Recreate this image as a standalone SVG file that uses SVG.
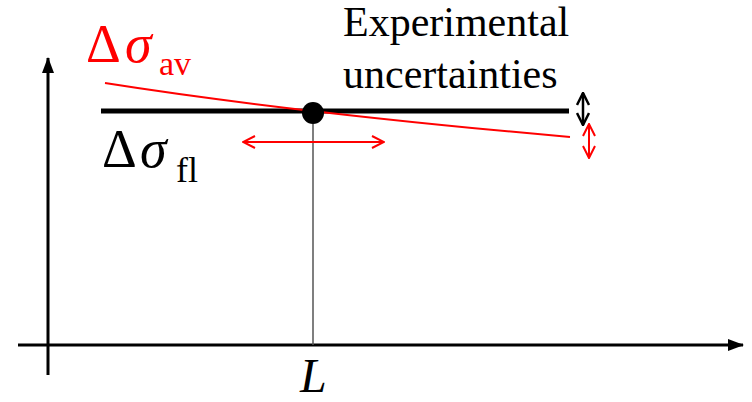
<svg xmlns="http://www.w3.org/2000/svg" width="752" height="402" viewBox="0 0 752 402">
<defs>
<style>
.serif{font-family:"Liberation Serif","Times New Roman",serif}
.red{fill:#ff0000}
.blk{fill:#000}
.ax{stroke:#000;stroke-width:3;fill:none}
.rl{stroke:#ff0000;stroke-width:2;fill:none}
</style>
<marker id="tri" viewBox="0 0 16 12" refX="15" refY="6" markerWidth="16" markerHeight="12" markerUnits="userSpaceOnUse" orient="auto">
<path d="M0,0 L16,6 L0,12 Z" fill="#000"/>
</marker>
<marker id="openR" viewBox="0 0 14 14" refX="13" refY="7" markerWidth="14" markerHeight="14" markerUnits="userSpaceOnUse" orient="auto-start-reverse">
<path d="M1,1 L13,7 L1,13" fill="none" stroke="#ff0000" stroke-width="2"/>
</marker>
<marker id="openK" viewBox="0 0 14 14" refX="13" refY="7" markerWidth="14" markerHeight="14" markerUnits="userSpaceOnUse" orient="auto-start-reverse">
<path d="M1,1 L13,7 L1,13" fill="none" stroke="#000" stroke-width="2.5"/>
</marker>
</defs>
<g id="connectors">
<line class="ax" x1="48" y1="375" x2="48" y2="58" marker-end="url(#tri)"/>
<line class="ax" x1="18" y1="345" x2="743" y2="345" marker-end="url(#tri)"/>
<line x1="313" y1="124" x2="313" y2="345" stroke="#555" stroke-width="1.5"/>
<line x1="101" y1="111" x2="569" y2="111" stroke="#000" stroke-width="5"/>
<path class="rl" d="M105,83 Q288.5,112 570,137"/>
<line class="rl" x1="243" y1="142" x2="384" y2="142" marker-start="url(#openR)" marker-end="url(#openR)"/>
<line x1="583" y1="93" x2="583" y2="125" stroke="#000" stroke-width="2.5" marker-start="url(#openK)" marker-end="url(#openK)"/>
<line class="rl" x1="589" y1="124" x2="589" y2="158" marker-start="url(#openR)" marker-end="url(#openR)"/>
</g>
<g id="point">
<circle cx="313" cy="113" r="11" fill="#000"/>
</g>
<g id="label-av" class="serif red">
<text x="86" y="62" font-size="54">Δ</text>
<text x="125" y="62" font-size="54" font-style="italic">σ</text>
<text x="159" y="75" font-size="34">av</text>
</g>
<g id="label-fl" class="serif blk">
<text x="102" y="167" font-size="54">Δ</text>
<text x="140" y="167" font-size="54" font-style="italic">σ</text>
<text x="176" y="182" font-size="36">fl</text>
</g>
<g id="label-exp" class="serif blk">
<text x="343" y="36" font-size="42">Experimental</text>
<text x="343" y="88" font-size="42">uncertainties</text>
</g>
<g id="label-L" class="serif blk">
<text x="300" y="392" font-size="48" font-style="italic">L</text>
</g>
</svg>
